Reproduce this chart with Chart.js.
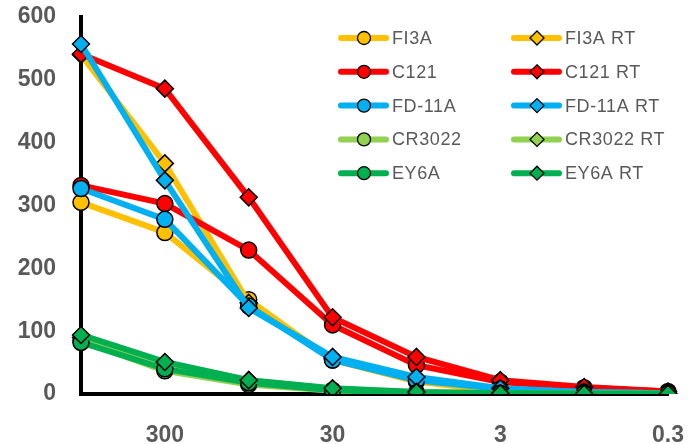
<!DOCTYPE html>
<html>
<head>
<meta charset="utf-8">
<script src="https://cdn.jsdelivr.net/npm/chart.js@4"></script>
<style>
  html, body { margin: 0; padding: 0; background: #fff; }
  #box { width: 691px; height: 444px; }
</style>
</head>
<body>
<div id="box"><canvas id="myChart"></canvas></div>
<script>
const xValues = ["1000", "300", "100", "30", "10", "3", "1", "0.3"];

const fi3a     = [305, 257, 150, 54, 20, 4, 1.5, 0.5];
const fi3aRT   = [540, 367, 145, 56, 22, 5, 2, 1];
const c121     = [332, 303, 229, 110, 46, 19, 10, 4];
const c121RT   = [541, 486, 313, 122, 59, 22, 11, 4];
const fd11a    = [327, 278, 140, 54, 22, 8, 3, 1];
const fd11aRT  = [557, 340, 137, 59, 27, 9, 3, 1];
const cr3022   = [85, 37, 15, 5, 2, 1, 0.5, 0.3];
const cr3022RT = [90, 50, 22, 8, 3, 1, 0.5, 0.3];
const ey6a     = [82, 40, 18, 6, 2, 1, 0.5, 0.3];
const ey6aRT   = [94, 51, 22, 9, 3, 1, 0.5, 0.3];

const seriesNames = ["FI3A", "FI3A RT", "C121", "C121 RT", "FD-11A", "FD-11A RT",
  "CR3022", "CR3022 RT", "EY6A", "EY6A RT"];
const seriesData = [fi3a, fi3aRT, c121, c121RT, fd11a, fd11aRT, cr3022, cr3022RT, ey6a, ey6aRT];
const seriesColors = ["#FFC000", "#FFC000", "#FF0000", "#FF0000", "#00B0F0", "#00B0F0",
  "#92D050", "#92D050", "#00B050", "#00B050"];

const datasets = seriesNames.map((name, i) => ({
  label: name,
  data: seriesData[i],
  borderColor: seriesColors[i],
  backgroundColor: seriesColors[i],
  borderWidth: 6,
  pointStyle: i % 2 === 0 ? "circle" : "rectRot",
  pointRadius: i % 2 === 0 ? 8 : 8.5,
  pointBorderColor: "#000",
  pointBorderWidth: 1.5,
  pointBackgroundColor: seriesColors[i],
  tension: 0,
  fill: false,
  order: 20 - i
}));

// excel-like legend: line with marker, two columns, inside the plot
const legendPlugin = {
  id: "lineLegend",
  afterDraw(chart) {
    const ctx = chart.ctx;
    ctx.save();
    chart.data.datasets.forEach((ds, i) => {
      const col = i % 2;
      const row = Math.floor(i / 2);
      const x0 = col === 0 ? 339 : 512;
      const y = 38 + row * 33.8;
      ctx.strokeStyle = ds.borderColor;
      ctx.lineWidth = 6;
      ctx.lineCap = "round";
      ctx.beginPath();
      ctx.moveTo(x0 + 2, y);
      ctx.lineTo(x0 + 47, y);
      ctx.stroke();

      const mx = x0 + 25;
      ctx.fillStyle = ds.backgroundColor;
      ctx.strokeStyle = "#000";
      ctx.lineWidth = 1.3;
      ctx.beginPath();
      if (ds.pointStyle === "circle") {
        ctx.arc(mx, y, 6.5, 0, Math.PI * 2);
      } else {
        ctx.moveTo(mx, y - 7);
        ctx.lineTo(mx + 7, y);
        ctx.lineTo(mx, y + 7);
        ctx.lineTo(mx - 7, y);
        ctx.closePath();
      }
      ctx.fill();
      ctx.stroke();

      ctx.fillStyle = "#595959";
      ctx.font = "18px 'Liberation Sans', Arial, sans-serif";
      ctx.letterSpacing = "0.6px";
      ctx.textBaseline = "middle";
      ctx.textAlign = "left";
      ctx.fillText(ds.label, x0 + 53, y + 1);
    });
    ctx.restore();
  }
};

new Chart("myChart", {
  type: "line",
  data: {
    labels: xValues,
    datasets: datasets
  },
  options: {
    responsive: true,
    maintainAspectRatio: false,
    animation: false,
    layout: { padding: { top: 17, right: 23, left: 0, bottom: 0 } },
    plugins: {
      legend: { display: false },
      tooltip: { enabled: false }
    },
    scales: {
      x: {
        type: "category",
        offset: false,
        grid: { display: false },
        border: { display: true, color: "#000", width: 4 },
        ticks: {
          autoSkip: false,
          maxRotation: 0,
          padding: 20,
          color: "#595959",
          font: { family: "'Liberation Sans', Arial, sans-serif", size: 23, weight: "bold" },
          callback: function(val, index) {
            return index % 2 === 1 ? this.getLabelForValue(val) : "";
          }
        },
        afterFit(scale) {
          scale.height = 50;
          scale.paddingLeft = 0;
          scale.paddingRight = 0;
        }
      },
      y: {
        min: 0,
        max: 600,
        grid: { display: false },
        border: { display: true, color: "#000", width: 4 },
        ticks: {
          stepSize: 100,
          padding: 17,
          color: "#595959",
          font: { family: "'Liberation Sans', Arial, sans-serif", size: 23, weight: "bold" }
        },
        afterFit(scale) {
          scale.width = 81;
          scale.paddingTop = 0;
          scale.paddingBottom = 0;
        }
      }
    }
  },
  plugins: [legendPlugin]
});
</script>
</body>
</html>
